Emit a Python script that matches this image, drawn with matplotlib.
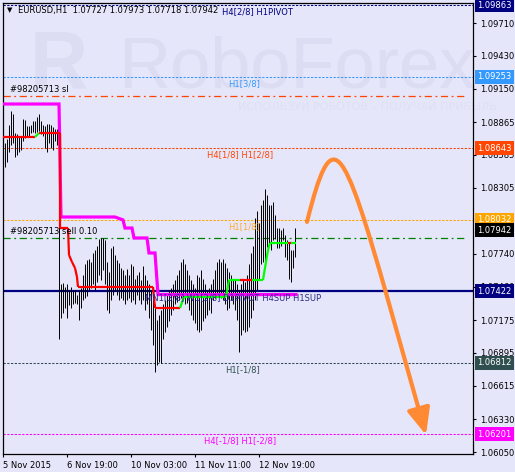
import matplotlib
matplotlib.use('Agg')
import matplotlib.pyplot as plt
from matplotlib.path import Path
from matplotlib.patches import FancyArrowPatch
from matplotlib import transforms

# EURUSD H1, bar 0 = 5 Nov 2015 11:00 (one bar per hour)
highs = [1.0892, 1.0869, 1.0872, 1.0884, 1.0896, 1.0893, 1.0877, 1.0876, 1.0875, 1.0874,
         1.0889, 1.0888, 1.0883, 1.0883, 1.0884, 1.0887, 1.0887, 1.0891, 1.0893, 1.0887,
         1.0884, 1.0883, 1.0885, 1.0885, 1.0884, 1.0882, 1.0881, 1.0881, 1.0880, 1.0748,
         1.0749, 1.0746, 1.0748, 1.0743, 1.0746, 1.0742, 1.0743, 1.0739, 1.0743, 1.0745,
         1.0756, 1.0765, 1.0769, 1.0770, 1.0767, 1.0775, 1.0777, 1.0781, 1.0787, 1.0788,
         1.0788, 1.0786, 1.0767, 1.0759, 1.0779, 1.0781, 1.0773, 1.0769, 1.0766, 1.0762,
         1.0760, 1.0756, 1.0761, 1.0756, 1.0765, 1.0764, 1.0753, 1.0756, 1.0759, 1.0752,
         1.0764, 1.0756, 1.0752, 1.0748, 1.0743, 1.0735, 1.0731, 1.0718, 1.0722, 1.0726,
         1.0731, 1.0735, 1.0739, 1.0743, 1.0745, 1.0748, 1.0752, 1.0756, 1.0760, 1.0767,
         1.0770, 1.0765, 1.0760, 1.0756, 1.0752, 1.0748, 1.0745, 1.0756, 1.0754, 1.0760,
         1.0753, 1.0748, 1.0743, 1.0745, 1.0748, 1.0753, 1.0760, 1.0767, 1.0770, 1.0767,
         1.0770, 1.0766, 1.0762, 1.0759, 1.0756, 1.0753, 1.0752, 1.0748, 1.0743, 1.0748,
         1.0752, 1.0750, 1.0756, 1.0765, 1.0775, 1.0781, 1.0805, 1.0811, 1.0800, 1.0816,
         1.0820, 1.0829, 1.0824, 1.0816, 1.0816, 1.0818, 1.0807, 1.0796, 1.0796, 1.0794,
         1.0796, 1.0790, 1.0786, 1.0784, 1.0777, 1.0777, 1.0796]
lows = [1.0861, 1.0848, 1.0852, 1.0861, 1.0867, 1.0869, 1.0857, 1.0858, 1.0861, 1.0863,
        1.0870, 1.0873, 1.0875, 1.0875, 1.0877, 1.0878, 1.0877, 1.0878, 1.0879, 1.0876,
        1.0875, 1.0864, 1.0861, 1.0869, 1.0864, 1.0863, 1.0870, 1.0867, 1.0701, 1.0719,
        1.0724, 1.0728, 1.0719, 1.0730, 1.0728, 1.0731, 1.0732, 1.0731, 1.0718, 1.0728,
        1.0735, 1.0736, 1.0738, 1.0743, 1.0745, 1.0748, 1.0743, 1.0750, 1.0756, 1.0752,
        1.0760, 1.0748, 1.0726, 1.0724, 1.0735, 1.0739, 1.0743, 1.0739, 1.0735, 1.0736,
        1.0735, 1.0731, 1.0735, 1.0736, 1.0733, 1.0735, 1.0731, 1.0739, 1.0735, 1.0731,
        1.0735, 1.0726, 1.0731, 1.0719, 1.0709, 1.0696, 1.0673, 1.0679, 1.0682, 1.0681,
        1.0701, 1.0707, 1.0712, 1.0717, 1.0722, 1.0726, 1.0731, 1.0733, 1.0735, 1.0736,
        1.0735, 1.0731, 1.0732, 1.0726, 1.0722, 1.0718, 1.0715, 1.0709, 1.0707, 1.0709,
        1.0717, 1.0719, 1.0722, 1.0726, 1.0724, 1.0735, 1.0736, 1.0739, 1.0741, 1.0736,
        1.0735, 1.0731, 1.0726, 1.0728, 1.0735, 1.0731, 1.0726, 1.0718, 1.0690, 1.0705,
        1.0709, 1.0707, 1.0708, 1.0712, 1.0719, 1.0726, 1.0735, 1.0743, 1.0752, 1.0765,
        1.0767, 1.0765, 1.0780, 1.0781, 1.0777, 1.0786, 1.0787, 1.0779, 1.0779, 1.0781,
        1.0786, 1.0771, 1.0769, 1.0753, 1.0750, 1.0762, 1.0771]

# upper (magenta) step indicator
upper_x = [0, 28, 29, 56, 60, 61, 64.5, 65.5, 72, 73, 76, 77.5, 146.5]
upper_y = [1.09019, 1.09019, 1.08055, 1.08055, 1.08030, 1.07961, 1.07961, 1.07876,
           1.07876, 1.07748, 1.07748, 1.07393, 1.07393]

# lower (red/green) step indicator
lower_x = [0, 16, 18, 28.5, 28.5, 32.5, 33, 34.5, 36, 37, 37.5, 75, 76, 88.5, 90.5,
           111.5, 113, 118.5, 124.5, 130, 132.5, 133.5, 142.5, 144, 146.5]
lower_y = [1.08737, 1.08737, 1.08772, 1.08772, 1.07961, 1.07961, 1.07731, 1.07671,
           1.07620, 1.07543, 1.07458, 1.07458, 1.07279, 1.07279, 1.07373, 1.07373,
           1.07518, 1.07518, 1.07518, 1.07518, 1.07774, 1.07833, 1.07833, 1.07833, 1.07833]
lower_c = ['r', 'g', 'r', 'r', 'r', 'r', 'r', 'r', 'r', 'r', 'r', 'r', 'r',
           'g', 'g', 'g', 'g', 'r', 'g', 'g', 'g', 'g', 'r', 'g']

# murrey math levels
levels = [1.09863, 1.09253, 1.08643, 1.08032, 1.07422, 1.06812, 1.06201]
level_names = ['H4[2/8] H1PIVOT', 'H1[3/8]', 'H4[1/8] H1[2/8]', 'H1[1/8]',
               'MN1[3/8] W1[2/8] D1PIVOT H4SUP H1SUP', 'H1[-1/8]', 'H4[-1/8] H1[-2/8]']
level_colors = ['#000080', '#3399ff', '#ff4500', '#ffa500', '#000080', '#2f4f4f', '#ff00ff']
label_colors = ['#000080', '#3399ff', '#ff4500', '#ffad33', '#2a2a8a', '#2f4f4f', '#ff00ff']
label_at = [109.5, 112.5, 102, 112.5, 71, 111, 100.5]

sl_price = 1.09087
order_price = 1.07876
bid = 1.07942

price_ticks = [1.09710, 1.09430, 1.09150, 1.08865, 1.08585, 1.08305, 1.07740,
               1.07460, 1.07175, 1.06895, 1.06615, 1.06330, 1.06050]
time_ticks = [0, 32, 64, 96, 128]
time_labels = ['5 Nov 2015', '6 Nov 19:00', '10 Nov 03:00', '11 Nov 11:00', '12 Nov 19:00']

# forecast arrow drawn on the chart
arrow_x = [152, 164.5, 169.5, 192.5, 211.5]
arrow_y = [1.08013, 1.08866, 1.08729, 1.07347, 1.06196]

bg = '#e6e6fa'
fs = 6.0
px = 0.72  # points per pixel

fig = plt.figure(figsize=(5.15, 4.72), dpi=100, facecolor=bg)
ax = fig.add_axes([2.5 / 515, 18 / 472, 470.8 / 515, 451.5 / 472])
ax.set_facecolor(bg)
ax.set_xlim(-0.25, 235.15)
ax.set_ylim(1.06033, 1.09885)

# watermark
wm = '#dcdcf2'
ax.text(30 / 515, 1 - 88 / 472, 'R', transform=fig.transFigure, fontsize=58,
        family='Liberation Sans', fontweight='bold', color=wm, va='baseline',
        zorder=0.2)
ax.text(118 / 515, 1 - 88 / 472, 'RoboForex', transform=fig.transFigure, fontsize=52,
        family='Liberation Sans', color=wm, va='baseline', zorder=0.2)
ax.text(238 / 515, 1 - 107 / 472, 'ИСПОЛЬЗУЙ РОБОТОВ – ПОЛУЧАЙ ПРИБЫЛЬ',
        transform=fig.transFigure, fontsize=8, color='#e0e0f5', va='center',
        zorder=0.2, clip_on=False)

# level lines
for i, lv in enumerate(levels):
    if i == 4:
        ax.axhline(lv, color=level_colors[i], lw=1.6, zorder=1)
    else:
        ax.axhline(lv, color=level_colors[i], lw=0.75, dashes=(3 * px, 2 * px), zorder=1)
    ax.annotate(level_names[i], (label_at[i], lv), xytext=(0, -1.5),
                textcoords='offset points', va='top', ha='left', fontsize=fs,
                color=label_colors[i], zorder=5)

ax.axhline(sl_price, xmax=0.987, color='#ff4500', lw=0.9,
           dashes=(8 * px, 4 * px, 2 * px, 4 * px), zorder=1)
ax.axhline(order_price, xmax=0.987, color='#008000', lw=0.9,
           dashes=(8 * px, 4 * px, 2 * px, 4 * px), zorder=1)
ax.annotate('#98205713 sl', (3.5, sl_price), xytext=(0, 1.5), textcoords='offset points',
            va='bottom', ha='left', fontsize=fs, color='black', zorder=5)
ax.annotate('#98205713 sell 0.10', (3.5, order_price), xytext=(0, 1.5),
            textcoords='offset points', va='bottom', ha='left', fontsize=fs,
            color='black', zorder=5)

# price bars
bars = list(range(len(highs)))
ax.vlines(bars, lows, highs, color='black', lw=0.7, zorder=2)

# indicators
ax.plot(upper_x, upper_y, color='#ff00ff', lw=2.3, zorder=3, solid_joinstyle='miter')
for i, c in enumerate(lower_c):
    col = '#ff0000' if c == 'r' else '#00ff00'
    ax.plot(lower_x[i:i + 2], lower_y[i:i + 2], color=col, lw=1.6, zorder=3,
            solid_capstyle='butt')

# forecast arrow
path = Path(list(zip(arrow_x, arrow_y)),
            [Path.MOVETO, Path.CURVE4, Path.CURVE4, Path.CURVE4, Path.LINETO])
arr = FancyArrowPatch(path=path, arrowstyle='-|>,head_length=1.6,head_width=0.7',
                      mutation_scale=10, color='#ff8a33', lw=3, shrinkA=0, shrinkB=0,
                      zorder=4)
ax.add_patch(arr)

# axes look
for s in ax.spines.values():
    s.set_linewidth(0.9)
    s.set_color('black')
ax.yaxis.tick_right()
ax.set_yticks(price_ticks)
ax.set_yticklabels(['%.5f' % p for p in price_ticks])
ax.tick_params(axis='y', length=2.2, width=0.8, pad=2.5, labelsize=fs)
ax.set_xticks(time_ticks)
ax.set_xticklabels(time_labels)
ax.tick_params(axis='x', length=2.2, width=0.8, pad=3, labelsize=fs)
for lbl in ax.get_xticklabels():
    lbl.set_ha('left')

# coloured price boxes on the right scale
tr = transforms.blended_transform_factory(fig.transFigure, ax.transData)
box_prices = levels + [bid]
box_colors = level_colors + ['black']
for p, c in zip(box_prices, box_colors):
    ax.text(477 / 515, p, '%.5f' % p, transform=tr, fontsize=fs, color='white',
            va='center', ha='left', clip_on=False, zorder=6,
            bbox=dict(boxstyle='square,pad=0.3', fc=c, ec='none'))

# header
fig.text(7 / 515, 1 - 10 / 472, '▼', fontsize=5, va='center', ha='left', color='black')
fig.text(18 / 515, 1 - 10 / 472, 'EURUSD,H1  1.07727 1.07973 1.07718 1.07942',
         fontsize=fs, va='center', ha='left', color='black')

fig.savefig('out.png', dpi=100, facecolor=bg)
